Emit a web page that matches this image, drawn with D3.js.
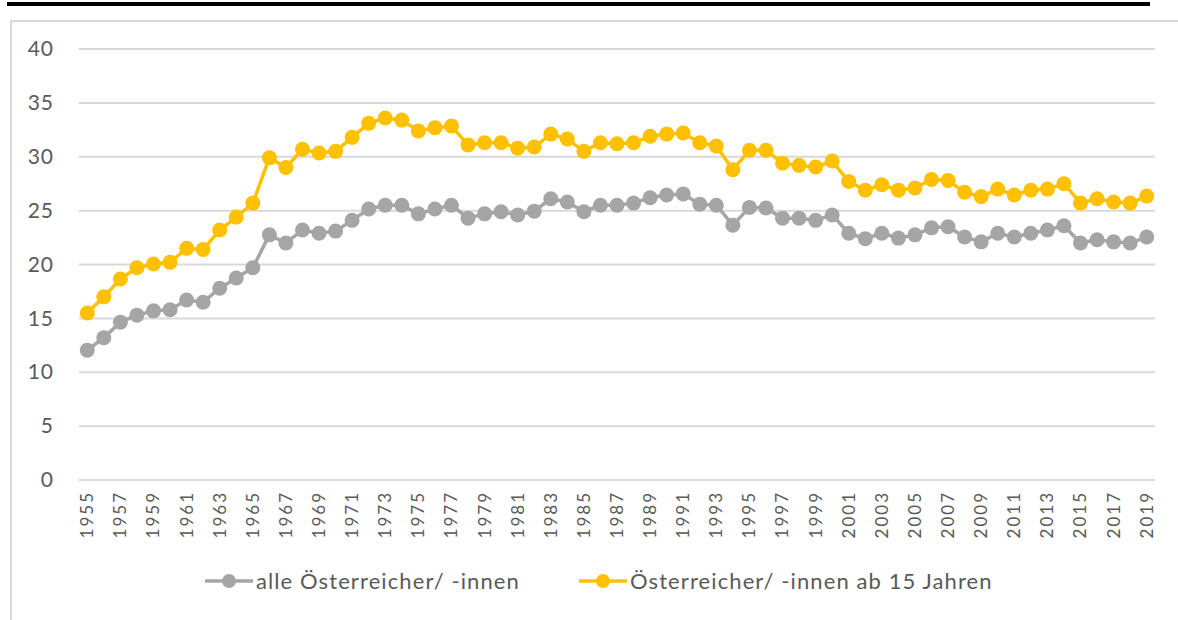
<!DOCTYPE html>
<html>
<head>
<meta charset="utf-8">
<script src="https://cdn.jsdelivr.net/npm/d3@7"></script>
<style>
  body { margin: 0; background: #fff; }
  text { font-family: Lato, "Open Sans", sans-serif; fill: #595959; }
</style>
</head>
<body>
<div id="chart"></div>
<script>
const WIDTH = 1178;
const HEIGHT = 620;

// Jahre 1955 - 2019
const years = d3.range(1955, 2020);

const allePersonen = [
    12.05, 13.2, 14.65, 15.3, 15.7, 15.8, 16.7, 16.5, 17.8, 18.75,
    19.7, 22.75, 22.0, 23.2, 22.9, 23.1, 24.1, 25.15, 25.5, 25.5,
    24.7, 25.15, 25.5, 24.3, 24.7, 24.9, 24.6, 24.95, 26.1, 25.8,
    24.9, 25.5, 25.5, 25.7, 26.2, 26.45, 26.55, 25.6, 25.5, 23.65,
    25.3, 25.25, 24.3, 24.3, 24.1, 24.6, 22.9, 22.4, 22.9, 22.45,
    22.75, 23.4, 23.5, 22.55, 22.1, 22.9, 22.55, 22.9, 23.2, 23.6,
    22.0, 22.3, 22.1, 22.0, 22.55
];

const ab15 = [
    15.5, 17.0, 18.65, 19.7, 20.05, 20.2, 21.5, 21.4, 23.2, 24.4,
    25.7, 29.9, 29.0, 30.7, 30.35, 30.5, 31.8, 33.1, 33.6, 33.4,
    32.4, 32.7, 32.85, 31.1, 31.3, 31.3, 30.8, 30.9, 32.1, 31.65,
    30.5, 31.3, 31.2, 31.3, 31.9, 32.1, 32.2, 31.3, 31.0, 28.8,
    30.6, 30.6, 29.4, 29.2, 29.05, 29.6, 27.7, 26.9, 27.4, 26.9,
    27.1, 27.9, 27.8, 26.7, 26.3, 27.0, 26.45, 26.9, 27.0, 27.5,
    25.7, 26.1, 25.8, 25.7, 26.35
];

const yTicks = [0, 5, 10, 15, 20, 25, 30, 35, 40];

const seriesNames = ["alle Österreicher/ -innen", "Österreicher/ -innen ab 15 Jahren"];
const seriesColors = ["#A5A5A5", "#FFC000"];

const series = [allePersonen, ab15].map((values, i) => ({
    name: seriesNames[i],
    color: seriesColors[i],
    values: values.map((v, j) => ({ year: years[j], value: v }))
}));

const margin = { top: 49, right: 23, bottom: 140, left: 79 };
const innerW = WIDTH - margin.left - margin.right;
const innerH = HEIGHT - margin.top - margin.bottom;

const svg = d3.select("#chart").append("svg")
    .attr("width", WIDTH)
    .attr("height", HEIGHT);

// schwarzer Balken oben
svg.append("rect")
    .attr("x", 7).attr("y", 2)
    .attr("width", 1143).attr("height", 4)
    .attr("fill", "#000");

// Rahmen
svg.append("path")
    .attr("d", "M11," + HEIGHT + " V21 H" + WIDTH)
    .attr("fill", "none")
    .attr("stroke", "#D9D9D9")
    .attr("stroke-width", 2);

const g = svg.append("g")
    .attr("transform", "translate(" + margin.left + "," + margin.top + ")");

const x = d3.scaleBand()
    .domain(years)
    .range([0, innerW]);

const y = d3.scaleLinear()
    .domain([0, 40])
    .range([innerH, 0]);

const cx = d => x(d.year) + x.bandwidth() / 2;

// Gitterlinien
g.append("g")
    .selectAll("line")
    .data(yTicks)
    .join("line")
        .attr("x1", 0)
        .attr("x2", innerW)
        .attr("y1", d => y(d))
        .attr("y2", d => y(d))
        .attr("stroke", "#D9D9D9")
        .attr("stroke-width", 2);

// y-Achse
const yAxis = g.append("g")
    .call(d3.axisLeft(y).tickValues(yTicks).tickSize(0).tickPadding(25));
yAxis.select(".domain").remove();
yAxis.selectAll("text")
    .style("font-size", "21px")
    .style("letter-spacing", "1px")
    .style("font-family", "Lato, sans-serif")
    .attr("fill", "#595959");

// x-Achse
const xAxis = g.append("g")
    .attr("transform", "translate(0," + innerH + ")")
    .call(d3.axisBottom(x).tickValues(years.filter((d, i) => i % 2 === 0)).tickSize(0));
xAxis.select(".domain").remove();
xAxis.selectAll("text")
    .attr("transform", "rotate(-90)")
    .attr("text-anchor", "end")
    .attr("x", -11)
    .attr("y", 0)
    .attr("dy", "0.35em")
    .style("font-size", "17px")
    .style("letter-spacing", "2px")
    .style("font-family", "Lato, sans-serif")
    .attr("fill", "#595959");

const line = d3.line()
    .x(cx)
    .y(d => y(d.value));

const s = g.selectAll(".series")
    .data(series)
    .join("g")
        .attr("class", "series");

s.append("path")
    .attr("d", d => line(d.values))
    .attr("fill", "none")
    .attr("stroke", d => d.color)
    .attr("stroke-width", 3.5)
    .attr("stroke-linejoin", "round");

s.selectAll("circle")
    .data(d => d.values.map(v => Object.assign({ color: d.color }, v)))
    .join("circle")
        .attr("cx", cx)
        .attr("cy", d => y(d.value))
        .attr("r", 7.5)
        .attr("fill", d => d.color);

// Legende
const legendX = [205, 579];
const legend = svg.append("g")
    .attr("transform", "translate(0,581)");

const item = legend.selectAll("g")
    .data(series)
    .join("g")
        .attr("transform", (d, i) => "translate(" + legendX[i] + ",0)");

item.append("line")
    .attr("x1", 0).attr("x2", 48)
    .attr("stroke", d => d.color)
    .attr("stroke-width", 3.5);

item.append("circle")
    .attr("cx", 24)
    .attr("r", 7)
    .attr("fill", d => d.color);

item.append("text")
    .attr("x", 51)
    .attr("dy", "0.35em")
    .style("font-size", "22px")
    .style("letter-spacing", "1.1px")
    .text(d => d.name);
</script>
</body>
</html>
